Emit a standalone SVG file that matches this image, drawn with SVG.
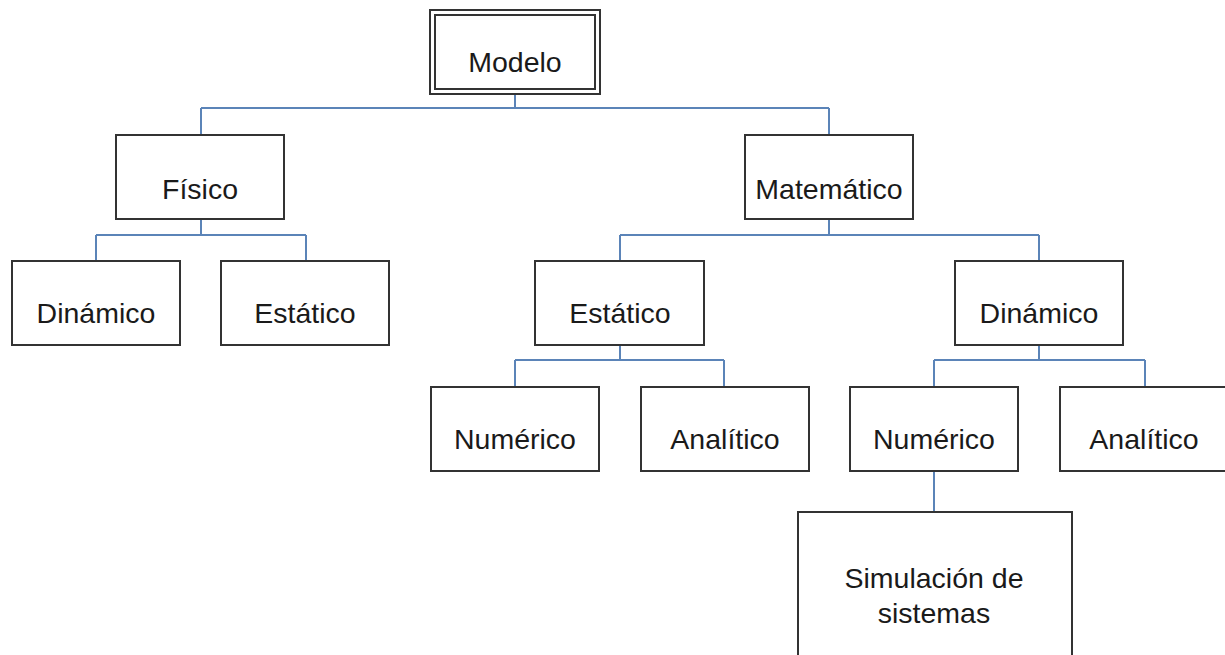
<svg xmlns="http://www.w3.org/2000/svg" width="1225" height="655" viewBox="0 0 1225 655">
  <style>
    .box { fill: #ffffff; stroke: #333333; stroke-width: 2; }
    .lbl { font-family: "Liberation Sans", Arial, sans-serif; font-size: 28.5px; fill: #1a1a1a; text-anchor: middle; }
    .link { fill: none; stroke: #5b84b8; stroke-width: 2; }
  </style>
  <rect width="1225" height="655" fill="#ffffff"/>

  <!-- connectors -->
  <g id="connectors">
    <path class="link" d="M515 94 V108 M201 108 H829 M201 108 V135 M829 108 V135"/>
    <path class="link" d="M201 219 V235 M96 235 H306 M96 235 V261 M306 235 V261"/>
    <path class="link" d="M829 219 V235 M620 235 H1039 M620 235 V261 M1039 235 V261"/>
    <path class="link" d="M620 345 V360 M515 360 H724 M515 360 V387 M724 360 V387"/>
    <path class="link" d="M1039 345 V360 M934 360 H1145 M934 360 V387 M1145 360 V387"/>
    <path class="link" d="M934 471 V512"/>
  </g>

  <g id="modelo">
    <rect class="box" x="430" y="10" width="170" height="84"/>
    <rect class="box" x="435" y="15" width="160" height="74"/>
    <text class="lbl" x="515" y="72">Modelo</text>
  </g>

  <g id="fisico">
    <rect class="box" x="116" y="135" width="168" height="84"/>
    <text class="lbl" x="200" y="199">Físico</text>
  </g>

  <g id="matematico">
    <rect class="box" x="745" y="135" width="168" height="84"/>
    <text class="lbl" x="829" y="199">Matemático</text>
  </g>

  <g id="fisico-dinamico">
    <rect class="box" x="12" y="261" width="168" height="84"/>
    <text class="lbl" x="96" y="323">Dinámico</text>
  </g>

  <g id="fisico-estatico">
    <rect class="box" x="221" y="261" width="168" height="84"/>
    <text class="lbl" x="305" y="323">Estático</text>
  </g>

  <g id="mat-estatico">
    <rect class="box" x="535" y="261" width="169" height="84"/>
    <text class="lbl" x="620" y="323">Estático</text>
  </g>

  <g id="mat-dinamico">
    <rect class="box" x="955" y="261" width="168" height="84"/>
    <text class="lbl" x="1039" y="323">Dinámico</text>
  </g>

  <g id="est-numerico">
    <rect class="box" x="431" y="387" width="168" height="84"/>
    <text class="lbl" x="515" y="449">Numérico</text>
  </g>

  <g id="est-analitico">
    <rect class="box" x="641" y="387" width="168" height="84"/>
    <text class="lbl" x="725" y="449">Analítico</text>
  </g>

  <g id="din-numerico">
    <rect class="box" x="850" y="387" width="168" height="84"/>
    <text class="lbl" x="934" y="449">Numérico</text>
  </g>

  <g id="din-analitico">
    <rect class="box" x="1060" y="387" width="172" height="84"/>
    <text class="lbl" x="1144" y="449">Analítico</text>
  </g>

  <g id="simulacion">
    <rect class="box" x="798" y="512" width="274" height="160"/>
    <text class="lbl" x="934" y="588">Simulación de</text>
    <text class="lbl" x="934" y="623">sistemas</text>
  </g>
</svg>
